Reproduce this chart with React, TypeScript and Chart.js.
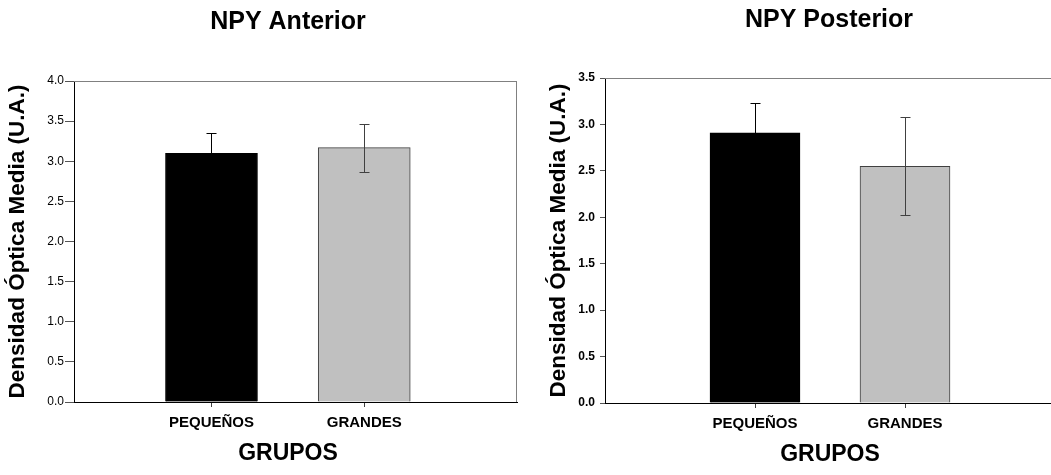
import React, { useEffect, useRef } from 'react';
import { Chart, registerables } from 'chart.js';

Chart.register(...registerables);

// ---------- data ----------
const CATEGORIES = ['PEQUEÑOS', 'GRANDES'];
const CAT_POS = [1, 2];
const ANT_MEANS = [3.1, 3.17];
const ANT_ERRORS = [0.25, 0.3];
const POST_MEANS = [2.91, 2.55];
const POST_ERRORS = [0.32, 0.53];
const ANT_Y_MAX = 4.0;
const POST_Y_MAX = 3.5;
const Y_STEP = 0.5;
const TITLE_ANT = 'NPY Anterior';
const TITLE_POST = 'NPY Posterior';
const Y_TITLE = 'Densidad Óptica Media (U.A.)';
const X_TITLE = 'GRUPOS';

const FONT = "'Liberation Sans', Arial, sans-serif";
const BAR_FILL = ['#000000', '#c0c0c0'];
const BAR_EDGE = ['#000000', '#404040'];
const ERR_COLOR = ['#000000', '#404040'];

type PanelOpts = {
  means: number[];
  errors: number[];
  yMax: number;
  title: string;
  titleX: number;
  titleY: number;
  xTitleX: number;
  xTitleY: number;
  padTop: number;
  padRight: number;
  yWidth: number;
  xHeight: number;
  xMin: number;
  xMax: number;
  barThickness: number;
  tickBold: boolean;
  yTitlePad: number;
  yTickLen: number;
  yTickPad: number;
  rightBorder: boolean;
};

function makePlugins(o: PanelOpts) {
  const errorBars = {
    id: 'errorBars',
    afterDatasetsDraw(chart: any) {
      const ctx = chart.ctx;
      const yScale = chart.scales.y;
      const meta = chart.getDatasetMeta(0);
      meta.data.forEach((el: any, i: number) => {
        const v = o.means[i];
        const e = o.errors[i];
        const yT = yScale.getPixelForValue(v + e);
        const yB = yScale.getPixelForValue(v - e);
        const x = Math.round(el.x) + 0.5;
        ctx.save();
        ctx.strokeStyle = ERR_COLOR[i];
        ctx.lineWidth = 1;
        ctx.beginPath();
        ctx.moveTo(x, Math.round(yT) + 0.5);
        ctx.lineTo(x, Math.round(yB) + 0.5);
        ctx.moveTo(x - 5, Math.round(yT) + 0.5);
        ctx.lineTo(x + 5, Math.round(yT) + 0.5);
        ctx.moveTo(x - 5, Math.round(yB) + 0.5);
        ctx.lineTo(x + 5, Math.round(yB) + 0.5);
        ctx.stroke();
        ctx.restore();
      });
    },
  };
  const frame = {
    id: 'frame',
    afterDatasetsDraw(chart: any) {
      const { ctx, chartArea } = chart;
      ctx.save();
      ctx.strokeStyle = '#808080';
      ctx.lineWidth = 1;
      ctx.beginPath();
      const t = Math.round(chartArea.top) + 0.5;
      ctx.moveTo(chartArea.left, t);
      ctx.lineTo(chartArea.right, t);
      if (o.rightBorder) {
        const r = Math.round(chartArea.right) - 0.5;
        ctx.moveTo(r, t);
        ctx.lineTo(r, chartArea.bottom);
      }
      ctx.stroke();
      ctx.restore();
    },
  };
  const texts = {
    id: 'texts',
    afterDraw(chart: any) {
      const ctx = chart.ctx;
      ctx.save();
      ctx.fillStyle = '#000';
      ctx.textAlign = 'center';
      ctx.textBaseline = 'middle';
      ctx.font = `bold 25px ${FONT}`;
      ctx.fillText(o.title, o.titleX, o.titleY);
      ctx.font = `bold 23px ${FONT}`;
      ctx.fillText(X_TITLE, o.xTitleX, o.xTitleY);
      ctx.restore();
    },
  };
  return [errorBars, frame, texts];
}

function makeConfig(o: PanelOpts): any {
  return {
    type: 'bar',
    data: {
      datasets: [
        {
          data: CAT_POS.map((x, i) => ({ x, y: o.means[i] })),
          backgroundColor: BAR_FILL,
          borderColor: BAR_EDGE,
          borderWidth: 1,
          barThickness: o.barThickness,
        },
      ],
    },
    options: {
      responsive: false,
      animation: false,
      devicePixelRatio: 1,
      layout: { padding: { top: o.padTop, right: o.padRight, left: 0, bottom: 0 } },
      plugins: {
        legend: { display: false },
        title: { display: false },
        tooltip: { enabled: false },
      },
      scales: {
        x: {
          type: 'linear',
          offset: false,
          min: o.xMin,
          max: o.xMax,
          afterBuildTicks: (scale: any) => {
            scale.ticks = CAT_POS.map((v) => ({ value: v }));
          },
          afterFit: (scale: any) => {
            scale.height = o.xHeight;
          },
          ticks: {
            callback: (_v: any, idx: number) => CATEGORIES[idx],
            font: { family: FONT, size: 15, weight: 'bold' },
            color: '#000',
            padding: 7,
            maxRotation: 0,
            autoSkip: false,
          },
          grid: { display: true, offset: false, drawOnChartArea: false, drawTicks: true, tickLength: 5, color: '#404040' },
          border: { display: true, color: '#000', width: 1 },
        },
        y: {
          min: 0,
          max: o.yMax,
          afterFit: (scale: any) => {
            scale.width = o.yWidth;
          },
          ticks: {
            stepSize: Y_STEP,
            callback: (v: any) => Number(v).toFixed(1),
            font: { family: FONT, size: 12, weight: o.tickBold ? 'bold' : 'normal' },
            color: '#000',
            padding: o.yTickPad,
          },
          grid: { display: true, drawOnChartArea: false, drawTicks: true, tickLength: o.yTickLen, color: '#555' },
          border: { display: true, color: '#000', width: 1 },
          title: {
            display: true,
            text: Y_TITLE,
            color: '#000',
            font: { family: FONT, size: 22.5, weight: 'bold', lineHeight: 1.2 },
            padding: { top: o.yTitlePad, bottom: 0 },
          },
        },
      },
    },
    plugins: makePlugins(o),
  };
}

const ANT_OPTS: PanelOpts = {
  means: ANT_MEANS,
  errors: ANT_ERRORS,
  yMax: ANT_Y_MAX,
  title: TITLE_ANT,
  titleX: 288,
  titleY: 22,
  xTitleX: 288,
  xTitleY: 454,
  padTop: 81,
  padRight: 13,
  yWidth: 74,
  xHeight: 73,
  xMin: 0.1,
  xMax: 3,
  barThickness: 92,
  tickBold: false,
  yTitlePad: 4,
  yTickLen: 9,
  yTickPad: 1,
  rightBorder: true,
};

const POST_OPTS: PanelOpts = {
  means: POST_MEANS,
  errors: POST_ERRORS,
  yMax: POST_Y_MAX,
  title: TITLE_POST,
  titleX: 299,
  titleY: 20,
  xTitleX: 300,
  xTitleY: 455,
  padTop: 78,
  padRight: 5,
  yWidth: 75,
  xHeight: 72,
  xMin: 0,
  xMax: 3,
  barThickness: 90,
  tickBold: true,
  yTitlePad: 15,
  yTickLen: 5,
  yTickPad: 5,
  rightBorder: false,
};

function Panel({ opts, left, width }: { opts: PanelOpts; left: number; width: number }) {
  const ref = useRef<HTMLCanvasElement | null>(null);
  useEffect(() => {
    if (!ref.current) return;
    const chart = new Chart(ref.current, makeConfig(opts));
    return () => chart.destroy();
  }, [opts]);
  return (
    <canvas
      ref={ref}
      width={width}
      height={475}
      style={{ position: 'absolute', left, top: 0, width, height: 475 }}
    />
  );
}

export default function App() {
  useEffect(() => {
    document.body.style.margin = '0';
  }, []);
  return (
    <div style={{ position: 'relative', width: 1051, height: 475, overflow: 'hidden', background: '#fff' }}>
      <Panel opts={ANT_OPTS} left={0} width={530} />
      <Panel opts={POST_OPTS} left={530} width={530} />
    </div>
  );
}
